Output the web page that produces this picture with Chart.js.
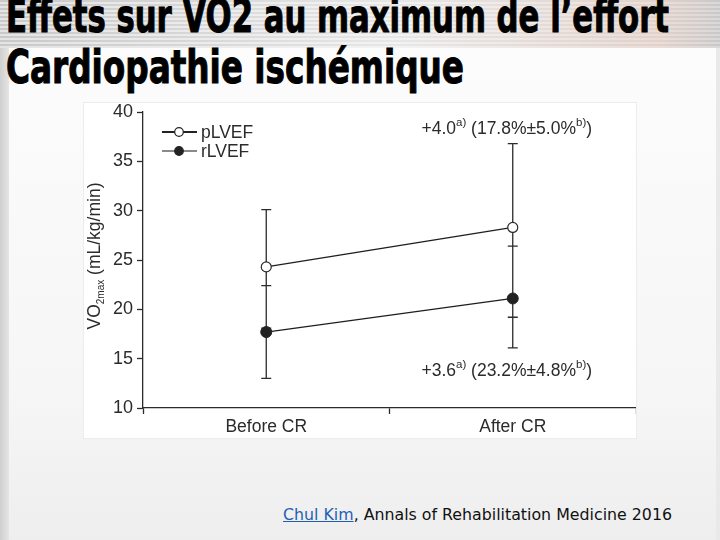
<!DOCTYPE html>
<html>
<head>
<meta charset="utf-8">
<script src="https://cdn.jsdelivr.net/npm/chart.js@4.4.1/dist/chart.umd.min.js"></script>
<style>
  html, body { margin: 0; padding: 0; }
  body {
    width: 720px; height: 540px; position: relative; overflow: hidden;
    background: linear-gradient(90deg, #cfcfcf 0, #ececec 12px, #f7f7f7 60%, #e9e9e9 100%);
  }
  #top {
    position: absolute; left: 0; top: 0; width: 720px; height: 48px;
    background:
      linear-gradient(90deg, rgba(255,255,255,0) 0, rgba(255,255,255,0.55) 55%, rgba(240,215,205,0.6) 92%, rgba(200,200,200,0.4) 100%),
      repeating-linear-gradient(180deg, #c9c9c9 0 2px, #e4e4e4 2px 4px);
  }
  #panel {
    position: absolute; left: 9px; top: 48px; right: 4px; bottom: 0;
    background: linear-gradient(180deg, #fcfcfc 0, #f6f6f6 70%, #eeeeee 100%);
  }
  .title {
    position: absolute; left: 6px; white-space: nowrap; color: #000;
    font-family: "Liberation Sans Narrow", "DejaVu Sans Condensed", sans-serif;
    font-weight: bold; font-size: 46px; line-height: 1; transform-origin: 0 0;
    -webkit-text-stroke: 1px #000;
  }
  #wrap {
    position: absolute; left: 84px; top: 103px; width: 552px; height: 335px;
    background: #fff; box-shadow: 0 0 0 1px #ececec;
  }
  #foot {
    position: absolute; left: 283px; top: 505px; white-space: nowrap;
    font-family: "DejaVu Sans", sans-serif; font-size: 16px; color: #111;
    transform-origin: 0 0;
  }
  #foot a { color: #1f5fb5; text-decoration: underline; }
</style>
</head>
<body>
<div id="top"></div>
<div id="panel"></div>
<div class="title" id="t1" style="top:-7px">Effets sur VO2 au maximum de l’effort</div>
<div class="title" id="t2" style="top:44px">Cardiopathie ischémique</div>
<div id="wrap"><canvas id="c" width="552" height="335"></canvas></div>
<div id="foot"><a>Chul Kim</a>, Annals of Rehabilitation Medicine 2016</div>

<script>
// valeurs
const categories = ["Before CR", "After CR"];
const pLVEF = [24.3, 28.3];
const rLVEF = [17.7, 21.1];
const pLVEFHigh = [30.1, 36.8];
const pLVEFLow = [18.1, 19.2];
const rLVEFHigh = [22.4, 26.4];
const rLVEFLow = [13.0, 16.1];
const yTicks = [10, 15, 20, 25, 30, 35, 40];

// annotations (texte, exposant)
const noteTop = [["+4.0", false], ["a)", true], [" (17.8%±5.0%", false], ["b)", true], [")", false]];
const noteBottom = [["+3.6", false], ["a)", true], [" (23.2%±4.8%", false], ["b)", true], [")", false]];
const noteTopY = 37.8;
const noteBottomY = 13.2;

const INK = "#2b2b2b";
const FONT = '"Liberation Sans", Arial, sans-serif';

// ajuste la largeur des titres
function fitWidth(id, target) {
  const el = document.getElementById(id);
  const w = el.getBoundingClientRect().width;
  el.style.transform = `scaleX(${target / w})`;
}
fitWidth("t1", 663);
fitWidth("t2", 458);
fitWidth("foot", 389);

function drawRich(ctx, parts, x, y, size, supSize, supRise) {
  let w = 0;
  parts.forEach(([t, sup]) => {
    ctx.font = `${sup ? supSize : size}px ${FONT}`;
    w += ctx.measureText(t).width;
  });
  let cx = x - w / 2;
  parts.forEach(([t, sup]) => {
    ctx.font = `${sup ? supSize : size}px ${FONT}`;
    ctx.fillText(t, cx, sup ? y + supRise : y);
    cx += ctx.measureText(t).width;
  });
}

// pas de marge auto autour des étiquettes
function noPad(s) {
  s.paddingTop = 0;
  s.paddingBottom = 0;
  s.paddingLeft = 0;
  s.paddingRight = 0;
}

const extras = {
  id: "extras",
  beforeDatasetsDraw(chart) {
    const ctx = chart.ctx;
    const xs = chart.scales.x;
    const ys = chart.scales.y;
    ctx.save();
    ctx.strokeStyle = INK;
    ctx.lineWidth = 1.3;
    const cap = 5;
    categories.forEach((c, i) => {
      const x = xs.getPixelForValue(i);
      const ends = [pLVEFHigh[i], pLVEFLow[i], rLVEFHigh[i], rLVEFLow[i]];
      const top = ys.getPixelForValue(Math.max(...ends));
      const bot = ys.getPixelForValue(Math.min(...ends));
      ctx.beginPath();
      ctx.moveTo(x, top);
      ctx.lineTo(x, bot);
      ends.forEach((v) => {
        const py = ys.getPixelForValue(v);
        ctx.moveTo(x - cap, py);
        ctx.lineTo(x + cap, py);
      });
      ctx.stroke();
    });
    ctx.restore();
  },
  afterDraw(chart) {
    const ctx = chart.ctx;
    const xs = chart.scales.x;
    const ys = chart.scales.y;
    ctx.save();
    ctx.fillStyle = INK;
    ctx.textBaseline = "alphabetic";
    ctx.textAlign = "left";

    // annotations
    const ax = xs.getPixelForValue(1) - 6;
    drawRich(ctx, noteTop, ax, ys.getPixelForValue(noteTopY), 17.5, 11.5, -8);
    drawRich(ctx, noteBottom, ax, ys.getPixelForValue(noteBottomY), 17.5, 11.5, -8);

    // titre de l'axe y
    ctx.save();
    ctx.translate(16, 153);
    ctx.rotate(-Math.PI / 2);
    drawRich(ctx, [["VO", false], ["2max", true], [" (mL/kg/min)", false]], 0, 0, 17.5, 10, 4);
    ctx.restore();

    // légende
    const items = [
      { label: "pLVEF", y: 29, line: "#222", fill: "#fff" },
      { label: "rLVEF", y: 48, line: "#8a8a8a", fill: "#222" },
    ];
    items.forEach((it) => {
      ctx.strokeStyle = it.line;
      ctx.lineWidth = 1.8;
      ctx.beginPath();
      ctx.moveTo(78, it.y);
      ctx.lineTo(113, it.y);
      ctx.stroke();
      ctx.beginPath();
      ctx.arc(95, it.y, 4.3, 0, Math.PI * 2);
      ctx.fillStyle = it.fill;
      ctx.fill();
      ctx.strokeStyle = "#222";
      ctx.lineWidth = 1.2;
      ctx.stroke();
      ctx.fillStyle = INK;
      ctx.font = `17.5px ${FONT}`;
      ctx.textBaseline = "middle";
      ctx.fillText(it.label, 117, it.y + 1);
    });
    ctx.restore();
  },
};

new Chart(document.getElementById("c"), {
  type: "line",
  data: {
    labels: categories,
    datasets: [
      {
        label: "pLVEF",
        data: pLVEF,
        borderColor: "#1e1e1e",
        borderWidth: 1.3,
        pointRadius: 5,
        pointBorderWidth: 1.2,
        pointBackgroundColor: "#fff",
        pointBorderColor: "#2a2a2a",
      },
      {
        label: "rLVEF",
        data: rLVEF,
        borderColor: "#1e1e1e",
        borderWidth: 1.3,
        pointRadius: 5.5,
        pointBorderWidth: 1,
        pointBackgroundColor: "#222",
        pointBorderColor: "#222",
      },
    ],
  },
  options: {
    responsive: false,
    animation: false,
    layout: { autoPadding: false, padding: { top: 9, right: -3, left: 0, bottom: 0 } },
    plugins: { legend: { display: false }, tooltip: { enabled: false } },
    scales: {
      x: {
        offset: true,
        grid: { offset: true, drawOnChartArea: false, tickLength: 6, color: INK, tickColor: INK, tickWidth: 1.3 },
        border: { color: INK, width: 1.3 },
        ticks: { color: INK, font: { family: FONT, size: 17.5 }, padding: 3 },
        afterFit(s) { s.height = 30; noPad(s); },
      },
      y: {
        min: 10,
        max: 40,
        afterBuildTicks(s) { s.ticks = yTicks.map((v) => ({ value: v })); },
        grid: { drawOnChartArea: false, tickLength: 6, color: INK, tickColor: INK, tickWidth: 1.3 },
        border: { color: INK, width: 1.3 },
        ticks: { color: INK, font: { family: FONT, size: 18 }, padding: 4 },
        afterFit(s) { s.width = 59; noPad(s); },
      },
    },
  },
  plugins: [extras],
});
</script>
</body>
</html>
